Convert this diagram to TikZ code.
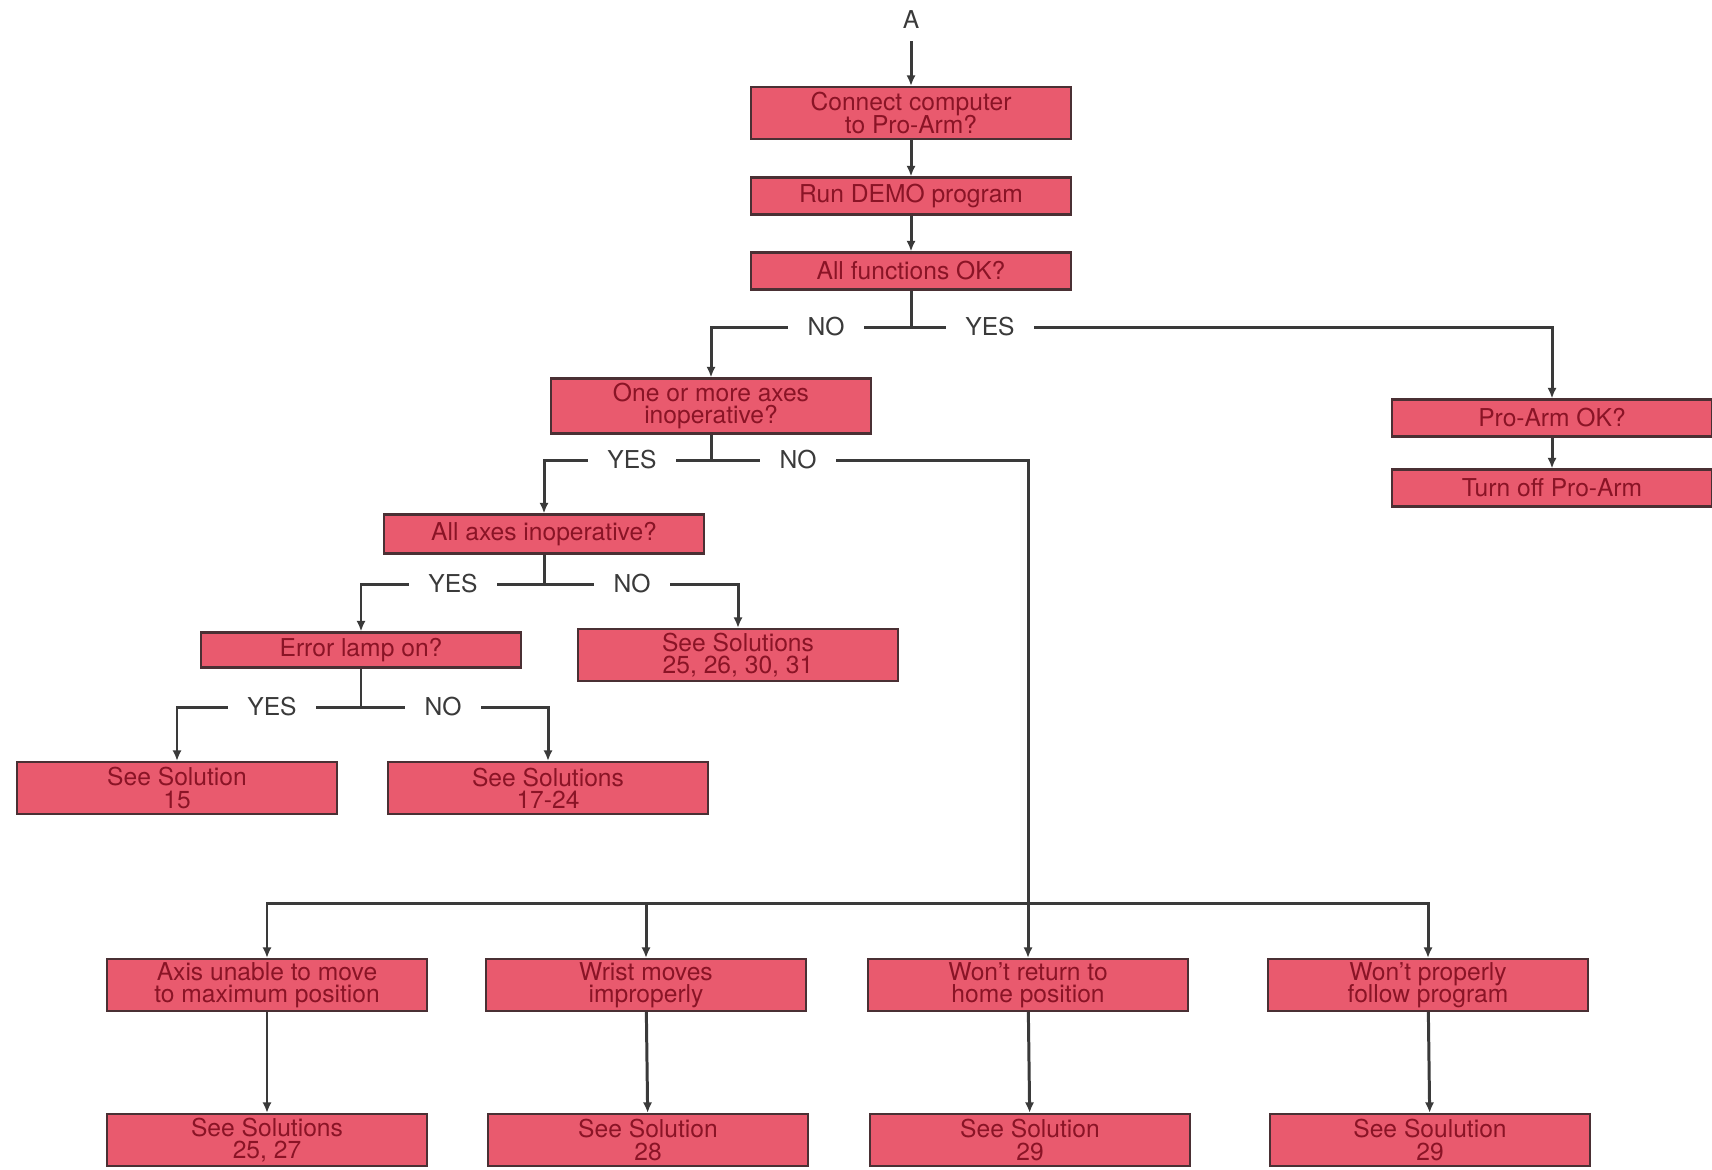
\documentclass[tikz,border=0pt]{standalone}
\usepackage{fontspec}
\setmainfont{TeX Gyre Heros}
\usetikzlibrary{positioning,arrows.meta}
\definecolor{boxred}{HTML}{E95A6E}
\definecolor{boxtext}{HTML}{8A1426}
\definecolor{boxline}{HTML}{4A3034}
\definecolor{wiregray}{HTML}{3A3A3A}
\setlength{\lineskiplimit}{-3pt}

\begin{document}
\begin{tikzpicture}[x=0.01cm, y=-0.01cm, font=\fontsize{7}{6.3}\selectfont,
  box/.style={draw=boxline, line width=0.6pt, fill=boxred, text=boxtext,
              minimum width=3.2cm, minimum height=0.52cm, align=center,
              inner xsep=1pt, inner ysep=0pt},
  sbox/.style={box, minimum height=0.37cm},
  ans/.style={fill=white, text=wiregray, inner xsep=0.19cm, inner ysep=1pt},
  wire/.style={draw=wiregray, line width=0.85pt},
  arr/.style={wire, -{Latex[length=3pt,width=2.6pt]}}]

\useasboundingbox[fill=white] (0,0) rectangle (1712,1169);

\node[text=wiregray] (top) at (911,20) {A};
\node[box] (q1) at (911,113) {Connect computer\\to Pro-Arm?};
\draw[arr] (top) -- (q1);

\node[sbox] (q2) at (911,196) {Run DEMO program};
\draw[arr] (q1) -- (q2);

\node[sbox] (q3) at (911,271) {All functions OK?};
\draw[arr] (q2) -- (q3);

\node[ans] (no1) at (826,327) {NO};
\node[ans] (yes1) at (990,327) {YES};
\draw[wire] (q3.south) |- (no1.east);
\draw[wire] (q3.south) |- (yes1.west);

\node[box, minimum height=0.55cm] (q4) at (711,406) {One or more axes\\inoperative?};
\draw[arr] (no1.west) -| (q4.north);

\node[sbox] (ok) at (1552,418) {Pro-Arm OK?};
\draw[arr] (yes1.east) -| (ok.north);

\node[sbox] (off) at (1552,488) {Turn off Pro-Arm};
\draw[arr] (ok) -- (off);

\node[ans] (yes2) at (632,460) {YES};
\node[ans] (no2) at (798,460) {NO};
\draw[wire] (q4.south) |- (yes2.east);
\draw[wire] (q4.south) |- (no2.west);

\node[sbox, minimum height=0.39cm] (q5) at (544,534) {All axes inoperative?};
\draw[arr] (yes2.west) -| (q5.north);

\node[ans] (yes3) at (453,584) {YES};
\node[ans] (no3) at (632,584) {NO};
\draw[wire] (q5.south) |- (yes3.east);
\draw[wire] (q5.south) |- (no3.west);

\node[sbox, minimum height=0.35cm] (q6) at (361,650) {Error lamp on?};
\draw[arr] (yes3.west) -| (q6.north);

\node[box] (s1) at (738,655) {See Solutions\\25, 26, 30, 31};
\draw[arr] (no3.east) -| (s1.north);

\node[ans] (yes4) at (272,707) {YES};
\node[ans] (no4) at (443,707) {NO};
\draw[wire] (q6.south) |- (yes4.east);
\draw[wire] (q6.south) |- (no4.west);

\node[box] (s2) at (177,788) {See Solution\\15};
\draw[arr] (yes4.west) -| (s2.north);

\node[box] (s3) at (548,788) {See Solutions\\17-24};
\draw[arr] (no4.east) -| (s3.north);

\node[box] (w1) at (267,985) {Axis unable to move\\to maximum position};
\node[box] (w2) at (646,985) {Wrist moves\\improperly};
\node[box] (w3) at (1028,985) {Won't return to\\home position};
\node[box] (w4) at (1428,985) {Won't properly\\follow program};

\coordinate (bus) at (1028,903);
\draw[arr] (no2.east) -| (w3.north);
\draw[arr] (bus) -| (w1.north);
\draw[arr] (bus) -| (w2.north);
\draw[arr] (bus) -| (w4.north);

\node[box] (t1) at (267,1140) {See Solutions\\25, 27};
\draw[arr] (w1) -- (t1);

\node[box] (t2) at (648,1140) {See Solution\\28};
\draw[arr] (w2) -- (t2);

\node[box] (t3) at (1030,1140) {See Solution\\29};
\draw[arr] (w3) -- (t3);

\node[box] (t4) at (1430,1140) {See Soulution\\29};
\draw[arr] (w4) -- (t4);
\end{tikzpicture}
\end{document}
